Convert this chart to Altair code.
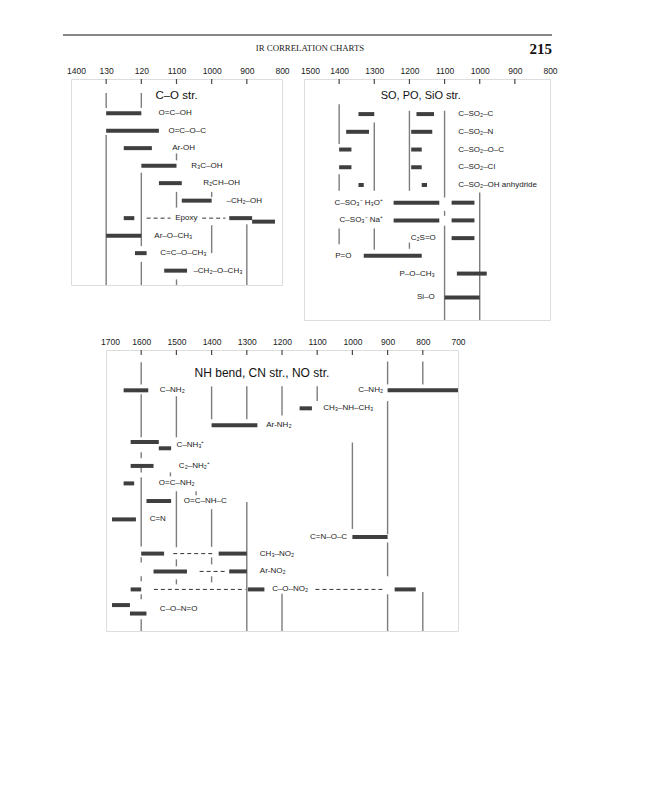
import altair as alt
import pandas as pd

# ---------------- Panel 1 : C–O str. ----------------
p1_ticks = [1400, 1300, 1200, 1100, 1000, 900, 800]
p1_tick_labels = ["1400", "130", "120", "1100", "1000", "900", "800"]
p1_bar_row = [0, 1, 2, 3, 4, 5, 6, 6, 6.2, 7, 8, 9]
p1_bar_from = [1300, 1300, 1250, 1200, 1150, 1085, 1250, 950, 885, 1300, 1218, 1135]
p1_bar_to = [1200, 1150, 1170, 1100, 1085, 1000, 1220, 885, 820, 1200, 1185, 1070]
p1_label_text = ["O=C–OH", "O=C–O–C", "Ar-OH", "R₃C–OH", "R₂CH–OH", "–CH₂–OH",
                 "Epoxy", "Ar–O–CH₃", "C=C–O–CH₃", "–CH₂–O–CH₃"]
p1_label_row = [0, 1, 2, 3, 4, 5, 6, 7, 8, 9]
p1_label_wn = [1151, 1123, 1112, 1058, 1024, 958, 1072, 1163, 1146, 1052]
p1_label_align = ["left", "left", "left", "left", "left", "left", "center", "left", "left", "left"]
p1_grid_wn = [1300, 1300, 1200, 1200, 1200, 1100, 1100, 1100, 1000, 1000, 900]
p1_grid_from = [-1.15, 1.25, -1.15, 3.4, 8.5, 2.3, 4.5, 9.5, 4.5, 6.4, 6.35]
p1_grid_to = [-0.3, 9.82, -0.3, 7.6, 9.82, 2.7, 5.4, 9.82, 4.8, 8.0, 9.82]
p1_dash_row = [6, 6]
p1_dash_from = [1185, 1027]
p1_dash_to = [1117, 961]

# ---------------- Panel 2 : SO, PO, SiO str. ----------------
p2_ticks = [1500, 1400, 1300, 1200, 1100, 1000, 900, 800]
p2_tick_labels = ["1500", "1400", "1300", "1200", "1100", "1000", "900", "800"]
p2_bar_row = [0, 0, 1, 1, 2, 2, 3, 3, 4, 4, 5, 5, 6, 6, 7, 8, 9, 10.35]
p2_bar_from = [1345, 1180, 1380, 1195, 1400, 1195, 1400, 1195, 1345, 1165,
               1245, 1080, 1245, 1080, 1080, 1330, 1065, 1100]
p2_bar_to = [1300, 1130, 1315, 1135, 1365, 1165, 1365, 1165, 1330, 1150,
             1115, 1015, 1115, 1015, 1015, 1165, 980, 1000]
p2_label_text = ["C–SO₂–C", "C–SO₂–N", "C–SO₂–O–C", "C–SO₂–Cl", "C–SO₂–OH anhydride",
                 "C–SO₃⁻ H₃O⁺", "C–SO₃⁻ Na⁺", "C₂S=O", "P=O", "P–O–CH₃", "Si–O"]
p2_label_row = [0, 1, 2, 3, 4, 5, 6, 7, 8, 9, 10.35]
p2_label_wn = [1061, 1061, 1061, 1061, 1061, 1275, 1275, 1125, 1365, 1128, 1128]
p2_label_align = ["left"] * 5 + ["right"] * 6
p2_grid_wn = [1400, 1400, 1400, 1300, 1300, 1200, 1200, 1100, 1100, 1100, 1000]
p2_grid_from = [-0.56, 3.39, 6.45, 0.47, 6.45, -0.19, 7.25, -0.19, 5.46, 6.3, 4.43]
p2_grid_to = [1.69, 4.33, 7.35, 4.33, 7.65, 4.33, 7.6, 4.71, 5.74, 11.62, 11.62]

# ---------------- Panel 3 : NH bend, CN str., NO str. ----------------
p3_ticks = [1700, 1600, 1500, 1400, 1300, 1200, 1100, 1000, 900, 800, 700]
p3_tick_labels = ["1700", "1600", "1500", "1400", "1300", "1200", "1100", "1000", "900", "800", "700"]
p3_bar_row = [0, 0, 1, 1.94, 2.87, 3.22, 4.2, 5.17, 6.15, 7.17, 8.15,
              9.07, 9.07, 10.06, 10.06, 11.06, 11.06, 11.06, 11.93, 12.4]
p3_bar_from = [1650, 900, 1150, 1400, 1630, 1550, 1630, 1650, 1585, 1683, 1000,
               1600, 1380, 1565, 1350, 1630, 1297, 880, 1683, 1632]
p3_bar_to = [1580, 700, 1115, 1270, 1550, 1515, 1565, 1620, 1515, 1615, 900,
             1535, 1300, 1470, 1300, 1600, 1250, 820, 1632, 1585]
p3_label_text = ["C–NH₂", "C–NH₂", "CH₃–NH–CH₃", "Ar-NH₂", "C–NH₃⁺", "C₂–NH₂⁺",
                 "O=C–NH₂", "O=C–NH–C", "C=N", "C=N–O–C", "CH₃–NO₂", "Ar-NO₂",
                 "C–O–NO₂", "C–O–N=O"]
p3_label_row = [0, 0, 1, 1.94, 3.05, 4.2, 5.17, 6.15, 7.17, 8.15, 9.07, 10.06, 11.06, 12.15]
p3_label_wn = [1547, 913, 1083, 1245, 1500, 1493, 1550, 1479, 1576, 1015, 1263, 1263, 1228, 1547]
p3_label_align = ["left", "right", "left", "left", "left", "left", "left", "left",
                  "left", "right", "left", "left", "left", "left"]
p3_grid_wn = [1600, 1600, 1600, 1600, 1600, 1600, 1600, 1600, 1600,
              1500, 1500, 1500, 1500,
              1400, 1400, 1400, 1400,
              1300, 1300, 1200, 1200, 1100, 1000,
              900, 900, 900, 900, 800, 800, 1517, 1444]
p3_grid_from = [-1.56, 0.22, 3.44, 4.28, 4.83, 9.28, 10.33, 11.33, 12.72,
                0.33, 5.61, 9.39, 10.5,
                -0.22, 6.6, 9.28, 10.33,
                -0.22, 6.2, -0.22, 11.3, -0.22, 2.9,
                -1.6, 0.6, 8.45, 11.33, -1.6, 11.2, 4.56, 5.6]
p3_grid_to = [-0.33, 2.61, 3.78, 4.56, 8.67, 9.56, 10.61, 11.61, 13.37,
              2.61, 8.72, 9.78, 10.78,
              1.61, 8.7, 9.67, 10.67,
              1.61, 13.37, 1.4, 13.37, 0.6, 7.7,
              -0.33, 8.0, 10.33, 13.37, -0.33, 13.37, 4.78, 5.83]
p3_dash_row = [9.07, 10.06, 11.06, 11.06]
p3_dash_from = [1509, 1434, 1564, 1105]
p3_dash_to = [1398, 1363, 1304, 915]

BAR = "#3f3f3f"
GRID = "#7d7d7d"
BOX = "#4a4a4a"
FONT = "Liberation Sans"


def panel(ticks, tick_labels, width, height, ydom, bars, grid, labels, dashes,
          title, title_wn, title_row, title_size, first_offset, extra=None):
    domain = [ticks[0], ticks[-1]]
    expr = "datum.label"
    for v, lab in zip(ticks, tick_labels):
        if lab != str(v):
            expr = f"datum.value == {v} ? '{lab}' : ({expr})"
    axis = alt.Axis(orient="top", values=ticks, format="d", labelExpr=expr,
                    ticks=False, domain=False, grid=False, title=None,
                    labelFont=FONT, labelFontSize=8.5, labelColor="#222",
                    labelPadding=4, labelFlush=False, labelOverlap=False,
                    labelOffset={"condition": {"test": f"datum.value == {ticks[0]}",
                                               "value": first_offset}, "value": 0})
    xs = alt.Scale(domain=domain, nice=False, zero=False)

    def X():
        return alt.X("wn:Q", scale=xs, axis=axis)

    Y = alt.Y("r:Q", scale=alt.Scale(domain=ydom, reverse=True, nice=False, zero=False), axis=None)

    layers = []
    tdf = pd.DataFrame({"wn": ticks[1:-1]})
    layers.append(alt.Chart(tdf).mark_rule(color=BOX, strokeWidth=1.2).encode(
        x=X(), y=alt.value(0), y2=alt.value(5)))

    gdf = pd.DataFrame({"wn": grid[0], "r": grid[1], "r2": grid[2]})
    layers.append(alt.Chart(gdf).mark_rule(color=GRID, strokeWidth=1.4).encode(
        x=X(), y=Y, y2="r2:Q"))

    if dashes is not None:
        ddf = pd.DataFrame({"r": dashes[0], "wn": dashes[1], "wn2": dashes[2]})
        layers.append(alt.Chart(ddf).mark_rule(color="#333", strokeWidth=1,
                                                strokeDash=[4, 3]).encode(
            x=X(), x2="wn2:Q", y=Y))

    bdf = pd.DataFrame({"r": bars[0], "wn": bars[1], "wn2": bars[2]})
    layers.append(alt.Chart(bdf).mark_rule(color=BAR, strokeWidth=4, strokeCap="butt").encode(
        x=X(), x2="wn2:Q", y=Y))

    ldf = pd.DataFrame({"t": labels[0], "r": labels[1], "wn": labels[2], "al": labels[3]})
    for al in ["left", "right", "center"]:
        sub = ldf[ldf["al"] == al]
        if len(sub):
            layers.append(alt.Chart(sub).mark_text(align=al, baseline="middle", font=FONT,
                                                   fontSize=8, color="#1a1a1a").encode(
                x=X(), y=Y, text="t:N"))

    tt = pd.DataFrame({"t": [title], "wn": [title_wn], "r": [title_row]})
    layers.append(alt.Chart(tt).mark_text(align="center", baseline="middle", font=FONT,
                                          fontSize=title_size, color="#111").encode(
        x=X(), y=Y, text="t:N"))
    if extra:
        layers.extend(extra)
    return alt.layer(*layers).properties(width=width, height=height)


# page header (drawn relative to the first panel)
hdr_text = ["IR CORRELATION CHARTS"]
hdr_page = ["215"]
hdr = pd.DataFrame({"a": hdr_text, "b": hdr_page})
header_layers = [
    alt.Chart(hdr).mark_rule(color="#111", strokeWidth=1.2).encode(
        x=alt.value(-8), x2=alt.value(481), y=alt.value(-44)),
    alt.Chart(hdr).mark_text(align="center", font="Liberation Serif", fontSize=8.8,
                             color="#222").encode(
        x=alt.value(239), y=alt.value(-31.5), text="a:N"),
    alt.Chart(hdr).mark_text(align="right", font="Liberation Serif", fontSize=15,
                             fontWeight="bold", color="#111").encode(
        x=alt.value(481), y=alt.value(-30), text="b:N"),
]

p1 = panel(p1_ticks, p1_tick_labels, 211, 206, [-1.95, 9.82],
           (p1_bar_row, p1_bar_from, p1_bar_to),
           (p1_grid_wn, p1_grid_from, p1_grid_to),
           (p1_label_text, p1_label_row, p1_label_wn, p1_label_align),
           (p1_dash_row, p1_dash_from, p1_dash_to),
           "C–O str.", 1100, -0.99, 11.5, 5, extra=header_layers)

p2 = panel(p2_ticks, p2_tick_labels, 246, 241, [-1.98, 11.62],
           (p2_bar_row, p2_bar_from, p2_bar_to),
           (p2_grid_wn, p2_grid_from, p2_grid_to),
           (p2_label_text, p2_label_row, p2_label_wn, p2_label_align),
           None,
           "SO, PO, SiO str.", 1168, -1.02, 11, 6)

p3 = panel(p3_ticks, p3_tick_labels, 352, 281, [-2.24, 13.37],
           (p3_bar_row, p3_bar_from, p3_bar_to),
           (p3_grid_wn, p3_grid_from, p3_grid_to),
           (p3_label_text, p3_label_row, p3_label_wn, p3_label_align),
           (p3_dash_row, p3_dash_from, p3_dash_to),
           "NH bend, CN str., NO str.", 1257, -0.98, 12, 4)

spacer = alt.Chart(pd.DataFrame({"a": [0]})).mark_rule(strokeOpacity=0, strokeWidth=0).encode(
    x=alt.value(0), x2=alt.value(34.5), y=alt.value(0)).properties(
    width=34.5, height=10, view=alt.ViewBackground(strokeOpacity=0))

top = alt.hconcat(p1, p2, spacing=22, bounds="flush")
bottom = alt.hconcat(spacer, p3, spacing=0, bounds="flush")
chart = alt.vconcat(top, bottom, spacing=14, bounds="full").properties(
    padding={"left": 53, "top": 25, "right": 5, "bottom": 5}
).configure_view(stroke=BOX, strokeWidth=1.3).configure(background="white")

chart.save("out.html", embed_options={"renderer": "svg", "actions": False})
